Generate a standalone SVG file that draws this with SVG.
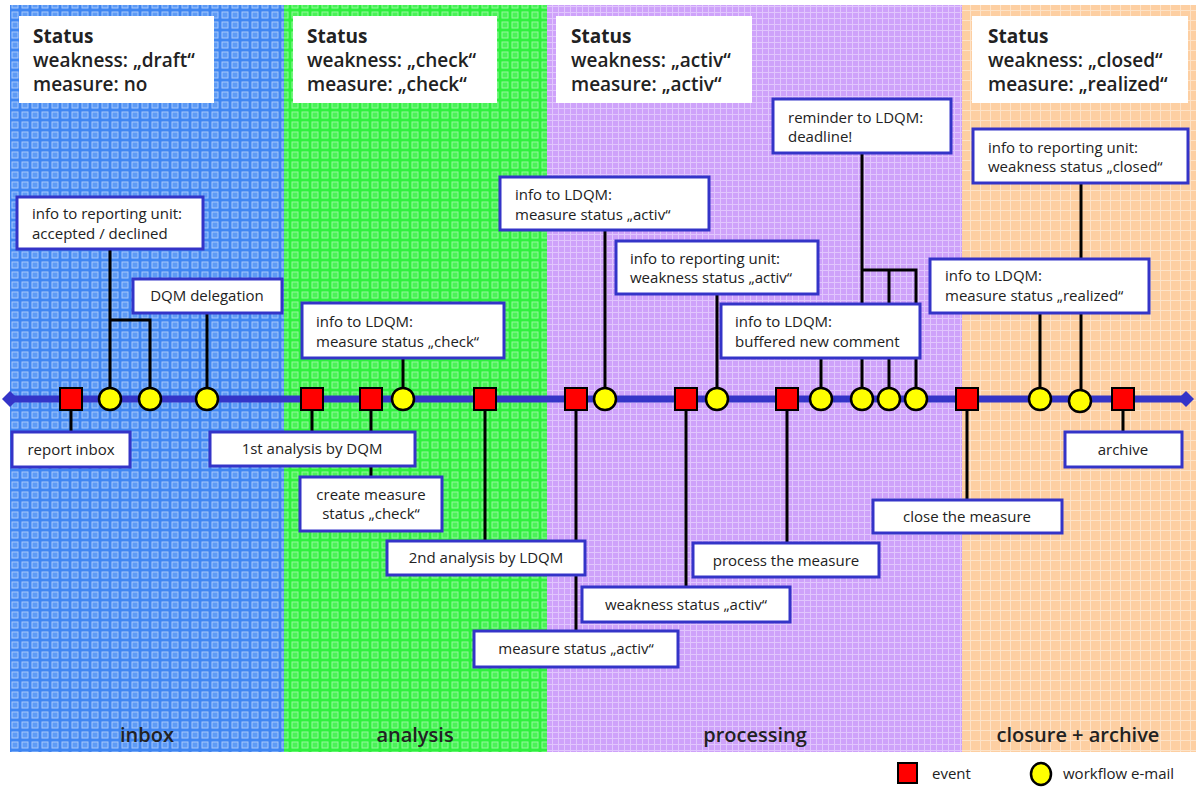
<svg xmlns="http://www.w3.org/2000/svg" width="1196" height="787" viewBox="0 0 1196 787">
<defs>
<style>
text{font-family:"Open Sans","Noto Sans","Liberation Sans",sans-serif;fill:#222}
.st{font-size:19px;font-weight:600}
.stb{font-size:19px;font-weight:700}
.lbl{font-size:15px}
.c{text-anchor:middle}
.band{font-size:20px;font-weight:600;text-anchor:middle}
.sbox{fill:#fff;stroke:none}
.box{fill:#fff;stroke:#3434c8;stroke-width:3}
.con{stroke:#000;stroke-width:3;fill:none}
.ev{fill:#ff0000;stroke:#000;stroke-width:2}
.wf{fill:#ffff00;stroke:#000;stroke-width:2.5}
</style>
<pattern id="pBlue" width="10" height="10" patternUnits="userSpaceOnUse">
<rect width="10" height="10" fill="#3f86f2"/>
<rect x="2" y="2" width="6" height="6" fill="#5e9bf5" stroke="#a6c8fb" stroke-width="1"/>
</pattern>
<pattern id="pGreen" width="10" height="10" patternUnits="userSpaceOnUse">
<rect width="10" height="10" fill="#2ef03e"/>
<rect x="2" y="2" width="6" height="6" fill="#4af258" stroke="#93f89b" stroke-width="1"/>
</pattern>
<pattern id="pPurple" width="6" height="6" patternUnits="userSpaceOnUse">
<rect width="6" height="6" fill="#cea2fa"/>
<path d="M0 0.5H6M0.5 0V6" stroke="#e1c6fd" stroke-width="1"/>
</pattern>
<pattern id="pOrange" width="10" height="10" patternUnits="userSpaceOnUse">
<rect width="10" height="10" fill="#fdcfa2"/>
<path d="M0 0.5H10M0.5 0V10" stroke="#fde3c8" stroke-width="1"/>
</pattern>
</defs>
<rect width="1196" height="787" fill="#fff"/>
<g id="bands">
<rect x="10" y="5" width="274" height="747" fill="url(#pBlue)"/>
<rect x="284" y="5" width="263" height="747" fill="url(#pGreen)"/>
<rect x="547" y="5" width="415" height="747" fill="url(#pPurple)"/>
<rect x="962" y="5" width="234" height="747" fill="url(#pOrange)"/>
<text class="band" x="147" y="742">inbox</text>
<text class="band" x="415" y="742">analysis</text>
<text class="band" x="755" y="742">processing</text>
<text class="band" x="1078" y="742">closure + archive</text>
</g>
<g id="status-inbox">
<rect class="sbox" x="19" y="16" width="195" height="87"/>
<text class="stb" x="33" y="43">Status</text>
<text class="st" x="33" y="67">weakness: „draft“</text>
<text class="st" x="33" y="91">measure: no</text>
</g>
<g id="status-analysis">
<rect class="sbox" x="293" y="16" width="204" height="87"/>
<text class="stb" x="307" y="43">Status</text>
<text class="st" x="307" y="67">weakness: „check“</text>
<text class="st" x="307" y="91">measure: „check“</text>
</g>
<g id="status-processing">
<rect class="sbox" x="556" y="16" width="196" height="87"/>
<text class="stb" x="571" y="43">Status</text>
<text class="st" x="571" y="67">weakness: „activ“</text>
<text class="st" x="571" y="91">measure: „activ“</text>
</g>
<g id="status-closure">
<rect class="sbox" x="972" y="16" width="216" height="87"/>
<text class="stb" x="988" y="43">Status</text>
<text class="st" x="988" y="67">weakness: „closed“</text>
<text class="st" x="988" y="91">measure: „realized“</text>
</g>
<g id="connectors">
<path class="con" d="M110 249V399M110 320H150V399"/>
<path class="con" d="M207 313V399"/>
<path class="con" d="M71 399V432"/>
<path class="con" d="M312 399V432"/>
<path class="con" d="M371 399V477"/>
<path class="con" d="M403 358V399"/>
<path class="con" d="M485 399V541"/>
<path class="con" d="M576 399V631"/>
<path class="con" d="M605 230V399"/>
<path class="con" d="M686 399V587"/>
<path class="con" d="M717 294V399"/>
<path class="con" d="M787 399V543"/>
<path class="con" d="M821 358V399"/>
<path class="con" d="M862 153V399M862 270H916V399M889 270V399"/>
<path class="con" d="M967 399V500"/>
<path class="con" d="M1040 313V399"/>
<path class="con" d="M1081 183V401"/>
<path class="con" d="M1123 399V432"/>
</g>
<g id="timeline">
<line x1="8" y1="399" x2="1188" y2="399" stroke="#3434c8" stroke-width="7"/>
<path d="M2 399L10 391L18 399L10 407Z" fill="#3434c8"/>
<path d="M1178 399L1186 391L1194 399L1186 407Z" fill="#3434c8"/>
</g>
<g id="markers">
<rect class="ev" x="60" y="388" width="22" height="22"/>
<circle class="wf" cx="110" cy="399" r="11"/>
<circle class="wf" cx="150" cy="399" r="11"/>
<circle class="wf" cx="207" cy="399" r="11"/>
<rect class="ev" x="301" y="388" width="22" height="22"/>
<rect class="ev" x="360" y="388" width="22" height="22"/>
<circle class="wf" cx="403" cy="399" r="11"/>
<rect class="ev" x="474" y="388" width="22" height="22"/>
<rect class="ev" x="565" y="388" width="22" height="22"/>
<circle class="wf" cx="605" cy="399" r="11"/>
<rect class="ev" x="675" y="388" width="22" height="22"/>
<circle class="wf" cx="717" cy="399" r="11"/>
<rect class="ev" x="776" y="388" width="22" height="22"/>
<circle class="wf" cx="821" cy="399" r="11"/>
<circle class="wf" cx="862" cy="399" r="11"/>
<circle class="wf" cx="889" cy="399" r="11"/>
<circle class="wf" cx="916" cy="399" r="11"/>
<rect class="ev" x="956" y="388" width="22" height="22"/>
<circle class="wf" cx="1040" cy="399" r="11"/>
<circle class="wf" cx="1080" cy="401" r="11"/>
<rect class="ev" x="1112" y="388" width="22" height="22"/>
</g>
<g id="n-info-reporting-accepted">
<rect class="box" x="17" y="197" width="186" height="52"/>
<text class="lbl" x="32" y="219">info to reporting unit:</text>
<text class="lbl" x="32" y="239">accepted / declined</text>
</g>
<g id="n-report-inbox">
<rect class="box" x="12" y="432" width="118" height="35"/>
<text class="lbl c" x="71" y="455">report inbox</text>
</g>
<g id="n-dqm-delegation">
<rect class="box" x="133" y="279" width="149" height="34"/>
<text class="lbl c" x="207" y="301">DQM delegation</text>
</g>
<g id="n-first-analysis">
<rect class="box" x="210" y="432" width="205" height="34"/>
<text class="lbl c" x="312" y="454">1st analysis by DQM</text>
</g>
<g id="n-info-ldqm-check">
<rect class="box" x="302" y="303" width="202" height="55"/>
<text class="lbl" x="316" y="327">info to LDQM:</text>
<text class="lbl" x="316" y="347">measure status „check“</text>
</g>
<g id="n-create-measure">
<rect class="box" x="300" y="477" width="142" height="54"/>
<text class="lbl c" x="371" y="500">create measure</text>
<text class="lbl c" x="371" y="519">status „check“</text>
</g>
<g id="n-second-analysis">
<rect class="box" x="387" y="541" width="198" height="34"/>
<text class="lbl c" x="486" y="563">2nd analysis by LDQM</text>
</g>
<g id="n-info-ldqm-activ">
<rect class="box" x="500" y="177" width="209" height="53"/>
<text class="lbl" x="515" y="200">info to LDQM:</text>
<text class="lbl" x="515" y="220">measure status „activ“</text>
</g>
<g id="n-info-reporting-activ">
<rect class="box" x="616" y="241" width="202" height="53"/>
<text class="lbl" x="630" y="264">info to reporting unit:</text>
<text class="lbl" x="630" y="283">weakness status „activ“</text>
</g>
<g id="n-reminder">
<rect class="box" x="773" y="99" width="178" height="54"/>
<text class="lbl" x="788" y="123">reminder to LDQM:</text>
<text class="lbl" x="788" y="142">deadline!</text>
</g>
<g id="n-buffered-comment">
<rect class="box" x="721" y="304" width="199" height="54"/>
<text class="lbl" x="735" y="327">info to LDQM:</text>
<text class="lbl" x="735" y="347">buffered new comment</text>
</g>
<g id="n-info-reporting-closed">
<rect class="box" x="973" y="129" width="215" height="54"/>
<text class="lbl" x="988" y="153">info to reporting unit:</text>
<text class="lbl" x="988" y="172">weakness status „closed“</text>
</g>
<g id="n-info-ldqm-realized">
<rect class="box" x="930" y="259" width="219" height="54"/>
<text class="lbl" x="945" y="281">info to LDQM:</text>
<text class="lbl" x="945" y="301">measure status „realized“</text>
</g>
<g id="n-measure-activ">
<rect class="box" x="474" y="631" width="204" height="36"/>
<text class="lbl c" x="576" y="654">measure status „activ“</text>
</g>
<g id="n-weakness-activ">
<rect class="box" x="582" y="587" width="208" height="35"/>
<text class="lbl c" x="686" y="610">weakness status „activ“</text>
</g>
<g id="n-process-measure">
<rect class="box" x="693" y="543" width="186" height="34"/>
<text class="lbl c" x="786" y="566">process the measure</text>
</g>
<g id="n-close-measure">
<rect class="box" x="873" y="500" width="189" height="33"/>
<text class="lbl c" x="967" y="522">close the measure</text>
</g>
<g id="n-archive">
<rect class="box" x="1065" y="432" width="117" height="35"/>
<text class="lbl c" x="1123" y="455">archive</text>
</g>
<g id="legend">
<rect class="ev" x="898" y="763" width="19" height="20"/>
<text class="lbl" x="932" y="779">event</text>
<ellipse class="wf" cx="1041" cy="774" rx="10" ry="11"/>
<text class="lbl" x="1063" y="779">workflow e-mail</text>
</g>
</svg>
